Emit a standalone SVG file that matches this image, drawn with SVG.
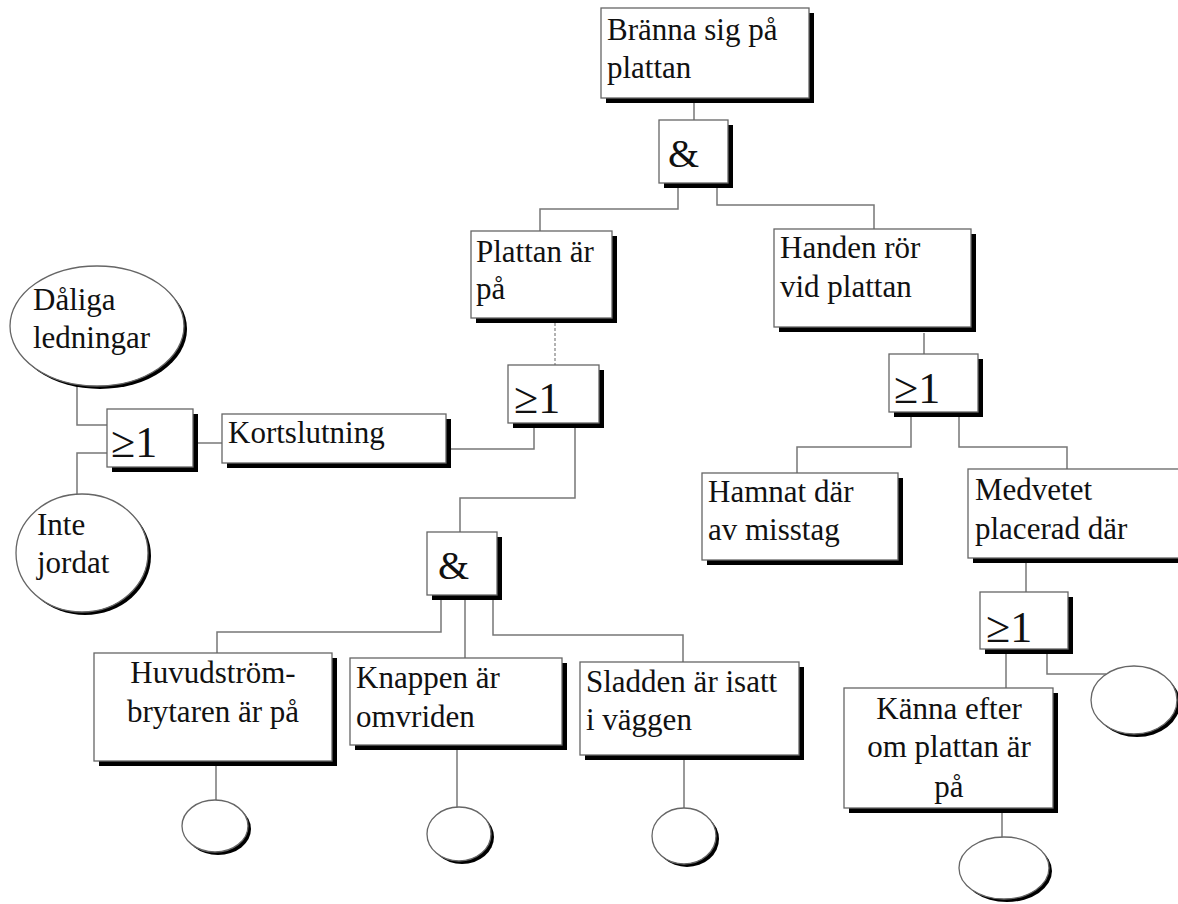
<svg xmlns="http://www.w3.org/2000/svg" width="1178" height="904" viewBox="0 0 1178 904">
<style>
  .sh { fill: #000; }
  .bx { fill: #fff; stroke: #666; stroke-width: 1.3; }
  .t { font-family: "Liberation Serif", "Times New Roman", serif; font-size: 31px; fill: #111; }
  .g { font-family: "Liberation Serif", "Times New Roman", serif; font-size: 44px; fill: #111; }
  .a { font-family: "Liberation Serif", "Times New Roman", serif; font-size: 40px; fill: #111; }
  .c { fill: none; stroke: #777; stroke-width: 1.5; }
  .d { fill: none; stroke: #999; stroke-width: 1.5; stroke-dasharray: 3 2; }
</style>
<rect width="1178" height="904" fill="#fff"/>

<g id="connectors">
  <polyline class="c" points="694,98 694,120"/>
  <polyline class="c" points="678,183 678,209 540,209 540,231"/>
  <polyline class="c" points="717,188 717,205 874,205 874,229"/>
  <polyline class="d" points="555,323 555,365"/>
  <polyline class="c" points="534,428 534,449 451,449"/>
  <polyline class="c" points="575,428 575,498 460,498 460,532"/>
  <polyline class="c" points="198,443 222,443"/>
  <polyline class="c" points="77,387 77,425 107,425"/>
  <polyline class="c" points="107,453 77,453 77,494"/>
  <polyline class="c" points="441,600 441,632 217,632 217,653"/>
  <polyline class="c" points="465,600 465,658"/>
  <polyline class="c" points="493,600 493,635 683,635 683,662"/>
  <polyline class="c" points="216,766 216,800"/>
  <polyline class="c" points="457,750 457,807"/>
  <polyline class="c" points="684,760 684,808"/>
  <polyline class="c" points="924,333 924,354"/>
  <polyline class="c" points="911,417 911,447 797,447 797,473"/>
  <polyline class="c" points="959,417 959,447 1067,447 1067,469"/>
  <polyline class="c" points="1026,563 1026,592"/>
  <polyline class="c" points="1006,654 1006,688"/>
  <polyline class="c" points="1047,654 1047,674 1106,674"/>
  <polyline class="c" points="1002,813 1002,837"/>
</g>

<g id="top">
  <rect class="sh" x="606" y="13" width="208" height="90"/>
  <rect class="bx" x="601" y="8" width="208" height="90"/>
  <text class="t" x="607" y="40">Bränna sig på</text>
  <text class="t" x="607" y="78">plattan</text>
</g>

<g id="and1">
  <rect class="sh" x="664" y="125" width="69" height="63"/>
  <rect class="bx" x="659" y="120" width="69" height="63"/>
  <text class="a" x="668" y="167">&amp;</text>
</g>

<g id="plattan">
  <rect class="sh" x="476" y="236" width="141" height="87"/>
  <rect class="bx" x="471" y="231" width="141" height="87"/>
  <text class="t" x="476" y="262">Plattan är</text>
  <text class="t" x="476" y="299">på</text>
</g>

<g id="handen">
  <rect class="sh" x="779" y="234" width="197" height="98"/>
  <rect class="bx" x="774" y="229" width="197" height="98"/>
  <text class="t" x="780" y="258">Handen rör</text>
  <text class="t" x="780" y="297">vid plattan</text>
</g>

<g id="orP">
  <rect class="sh" x="513" y="370" width="91" height="58"/>
  <rect class="bx" x="508" y="365" width="91" height="58"/>
  <text class="g" x="514" y="413">≥1</text>
</g>

<g id="orH">
  <rect class="sh" x="894" y="359" width="89" height="58"/>
  <rect class="bx" x="889" y="354" width="89" height="58"/>
  <text class="g" x="894" y="403">≥1</text>
</g>

<g id="daliga">
  <ellipse class="sh" cx="100" cy="329" rx="87" ry="60"/>
  <ellipse class="bx" cx="97" cy="326" rx="87" ry="60"/>
  <text class="t" x="33" y="310">Dåliga</text>
  <text class="t" x="33" y="348">ledningar</text>
</g>

<g id="orL">
  <rect class="sh" x="112" y="414" width="86" height="58"/>
  <rect class="bx" x="107" y="409" width="86" height="58"/>
  <text class="g" x="111" y="457">≥1</text>
</g>

<g id="kortslutning">
  <rect class="sh" x="227" y="419" width="224" height="49"/>
  <rect class="bx" x="222" y="414" width="224" height="49"/>
  <text class="t" x="228" y="443">Kortslutning</text>
</g>

<g id="inte">
  <ellipse class="sh" cx="85" cy="556" rx="66" ry="59"/>
  <ellipse class="bx" cx="82" cy="553" rx="66" ry="59"/>
  <text class="t" x="37" y="535">Inte</text>
  <text class="t" x="37" y="573">jordat</text>
</g>

<g id="and2">
  <rect class="sh" x="432" y="537" width="70" height="63"/>
  <rect class="bx" x="427" y="532" width="70" height="63"/>
  <text class="a" x="438" y="579">&amp;</text>
</g>

<g id="huvud">
  <rect class="sh" x="99" y="658" width="238" height="108"/>
  <rect class="bx" x="94" y="653" width="238" height="108"/>
  <text class="t" x="213" y="683" text-anchor="middle">Huvudström-</text>
  <text class="t" x="213" y="722" text-anchor="middle">brytaren är på</text>
</g>

<g id="knappen">
  <rect class="sh" x="355" y="663" width="212" height="87"/>
  <rect class="bx" x="350" y="658" width="212" height="87"/>
  <text class="t" x="356" y="688">Knappen är</text>
  <text class="t" x="356" y="727">omvriden</text>
</g>

<g id="sladden">
  <rect class="sh" x="585" y="667" width="219" height="93"/>
  <rect class="bx" x="580" y="662" width="219" height="93"/>
  <text class="t" x="586" y="692">Sladden är isatt</text>
  <text class="t" x="586" y="730">i väggen</text>
</g>

<g id="c1">
  <ellipse class="sh" cx="218" cy="829" rx="33" ry="26"/>
  <ellipse class="bx" cx="215" cy="826" rx="33" ry="26"/>
</g>
<g id="c2">
  <ellipse class="sh" cx="462" cy="837" rx="32" ry="27"/>
  <ellipse class="bx" cx="459" cy="834" rx="32" ry="27"/>
</g>
<g id="c3">
  <ellipse class="sh" cx="687" cy="839" rx="32" ry="28"/>
  <ellipse class="bx" cx="684" cy="836" rx="32" ry="28"/>
</g>

<g id="hamnat">
  <rect class="sh" x="707" y="478" width="196" height="87"/>
  <rect class="bx" x="702" y="473" width="196" height="87"/>
  <text class="t" x="708" y="502">Hamnat där</text>
  <text class="t" x="708" y="540">av misstag</text>
</g>

<g id="medvetet">
  <rect class="sh" x="973" y="474" width="230" height="89"/>
  <rect class="bx" x="968" y="469" width="230" height="89"/>
  <text class="t" x="975" y="500">Medvetet</text>
  <text class="t" x="975" y="539">placerad där</text>
</g>

<g id="orM">
  <rect class="sh" x="985" y="597" width="88" height="57"/>
  <rect class="bx" x="980" y="592" width="88" height="57"/>
  <text class="g" x="986" y="642">≥1</text>
</g>

<g id="kanna">
  <rect class="sh" x="849" y="693" width="209" height="120"/>
  <rect class="bx" x="844" y="688" width="209" height="120"/>
  <text class="t" x="949" y="719" text-anchor="middle">Känna efter</text>
  <text class="t" x="949" y="757" text-anchor="middle">om plattan är</text>
  <text class="t" x="949" y="797" text-anchor="middle">på</text>
</g>

<g id="c4">
  <ellipse class="sh" cx="1137" cy="703" rx="43" ry="34"/>
  <ellipse class="bx" cx="1134" cy="700" rx="43" ry="34"/>
</g>
<g id="c5">
  <ellipse class="sh" cx="1007" cy="871" rx="45" ry="31"/>
  <ellipse class="bx" cx="1004" cy="868" rx="45" ry="31"/>
</g>
</svg>
